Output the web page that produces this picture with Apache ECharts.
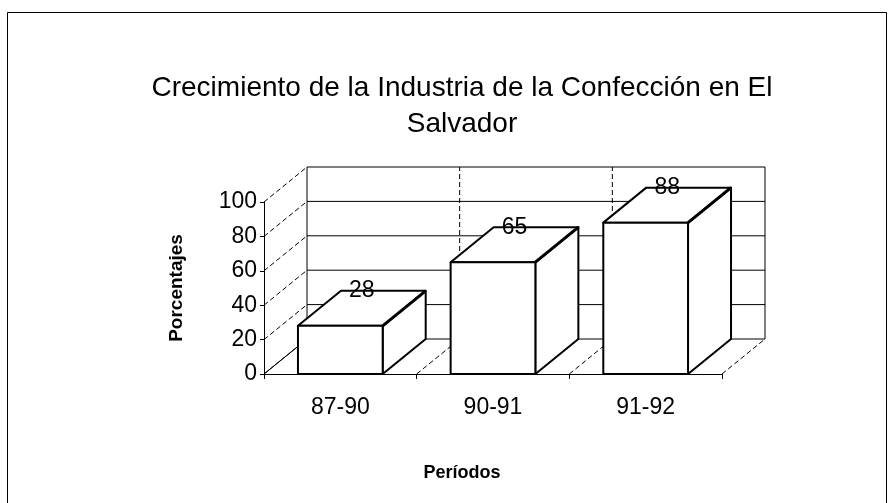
<!DOCTYPE html>
<html>
<head>
<meta charset="utf-8">
<script src="https://cdn.jsdelivr.net/npm/echarts@6/dist/echarts.min.js"></script>
<style>
  html, body { margin: 0; padding: 0; background: #fff; }
  #chart { width: 890px; height: 503px; }
</style>
</head>
<body>
<div id="chart"></div>
<script>
// datos
const titleText = 'Crecimiento de la Industria de la Confección en El\nSalvador'
const categories = ['87-90', '90-91', '91-92']
const values = [28, 65, 88]
const yTicks = [0, 20, 40, 60, 80, 100]

const FONT = '"Liberation Sans", Arial, sans-serif'
// desplazamiento de profundidad (efecto 3D)
const DX = 43
const DY = -35

let chart = echarts.init(document.getElementById('chart'), null, { renderer: 'canvas' })

// paredes: lineas de la pared lateral y de fondo
function renderWall (params, api) {
  let cs = params.coordSys
  let v = api.value(0)
  let y = api.coord([0, v])[1]
  let x0 = cs.x
  let x1 = cs.x + cs.width
  return {
    type: 'group',
    children: [
      {
        type: 'line',
        shape: { x1: x0, y1: y, x2: x0 + DX, y2: y + DY },
        style: { stroke: '#000', lineWidth: 1, lineDash: v === 0 ? null : [5, 3] }
      },
      {
        type: 'line',
        shape: { x1: x0 + DX, y1: y + DY, x2: x1 + DX, y2: y + DY },
        style: { stroke: '#000', lineWidth: 1 }
      }
    ]
  }
}

// divisiones entre categorias en el piso y en el fondo
function renderFrame (params, api) {
  let i = api.value(0)
  let band = api.size([1, 0])[0]
  let y0 = api.coord([i, 0])[1]
  let yTop = api.coord([i, yTicks[yTicks.length - 1]])[1]
  let xl = api.coord([i, 0])[0] - band / 2
  let children = []
  let edges = [xl]
  if (i === categories.length - 1) edges.push(xl + band)
  edges.forEach(function (x, k) {
    let outer = (i === 0 && k === 0) || k === 1
    children.push({
      type: 'line',
      shape: { x1: x, y1: y0, x2: x + DX, y2: y0 + DY },
      style: { stroke: '#000', lineWidth: 1, lineDash: (i === 0 && k === 0) ? null : [5, 3] }
    })
    children.push({
      type: 'line',
      shape: { x1: x + DX, y1: y0 + DY, x2: x + DX, y2: yTop + DY },
      style: { stroke: '#000', lineWidth: 1, lineDash: outer ? null : [5, 3] }
    })
  })
  return { type: 'group', children: children }
}

// barras 3D
function renderBar (params, api) {
  let idx = api.value(0)
  let val = api.value(1)
  let top = api.coord([idx, val])
  let base = api.coord([idx, 0])
  let band = api.size([1, 0])[0]
  let w = band * 0.555
  let xl = top[0] - w / 2
  let xr = top[0] + w / 2
  let yt = top[1]
  let yb = base[1]
  let st = { fill: '#fff', stroke: '#000', lineWidth: 2, lineJoin: 'round' }
  return {
    type: 'group',
    children: [
      { type: 'polygon', shape: { points: [[xr, yt], [xr + DX, yt + DY], [xr + DX, yb + DY], [xr, yb]] }, style: st },
      { type: 'polygon', shape: { points: [[xl, yt], [xr, yt], [xr + DX, yt + DY], [xl + DX, yt + DY]] }, style: st },
      { type: 'rect', shape: { x: xl, y: yt, width: w, height: yb - yt }, style: st },
      // arista diagonal mas gruesa, como en el original
      { type: 'line', shape: { x1: xr, y1: yt, x2: xr + DX, y2: yt + DY }, style: { stroke: '#000', lineWidth: 3 } },
      {
        type: 'text',
        x: top[0] + DX / 2,
        y: yt + DY,
        style: {
          text: String(val), fill: '#000', font: '23px ' + FONT,
          align: 'center', verticalAlign: 'middle'
        }
      }
    ]
  }
}

let option = {
  backgroundColor: '#fff',
  animation: false,
  title: {
    text: titleText,
    left: 462,
    top: 70,
    padding: 0,
    textAlign: 'center',
    textStyle: { fontFamily: FONT, fontSize: 28, fontWeight: 'normal', color: '#000', lineHeight: 36 }
  },
  grid: { left: 264, right: 168, top: 202, bottom: 129 },
  xAxis: {
    type: 'category',
    data: categories,
    name: 'Períodos',
    nameLocation: 'middle',
    nameGap: 90,
    nameTextStyle: { fontFamily: FONT, fontSize: 18, fontWeight: 'bold', color: '#000', padding: [0, 62, 0, 0] },
    axisLine: { lineStyle: { color: '#000', width: 1 } },
    axisTick: { show: true, length: 5, lineStyle: { color: '#000' } },
    axisLabel: { fontFamily: FONT, fontSize: 23, color: '#000', margin: 22 },
    splitLine: { show: false }
  },
  yAxis: {
    type: 'value',
    min: 0,
    max: 100,
    interval: 20,
    name: 'Porcentajes',
    nameLocation: 'middle',
    nameGap: 78,
    nameTextStyle: { fontFamily: FONT, fontSize: 19, fontWeight: 'bold', color: '#000' },
    axisLine: { show: true, lineStyle: { color: '#000', width: 1 } },
    axisTick: { show: true, length: 4, lineStyle: { color: '#000' } },
    axisLabel: { fontFamily: FONT, fontSize: 23, color: '#000', margin: 7 },
    splitLine: { show: false }
  },
  graphic: [
    {
      type: 'rect',
      shape: { x: 7.5, y: 12.5, width: 879, height: 520 },
      style: { fill: 'none', stroke: '#000', lineWidth: 1 },
      silent: true
    }
  ],
  series: [
    {
      type: 'custom',
      name: 'pared',
      renderItem: renderWall,
      data: yTicks.map(function (v) { return [v] }),
      encode: { y: 0 },
      silent: true,
      z: 1
    },
    {
      type: 'custom',
      name: 'marco',
      renderItem: renderFrame,
      data: categories.map(function (c, i) { return [i] }),
      encode: { x: 0 },
      silent: true,
      z: 1
    },
    {
      type: 'custom',
      name: 'Crecimiento',
      renderItem: renderBar,
      data: values.map(function (v, i) { return [i, v] }),
      encode: { x: 0, y: 1 },
      z: 3
    }
  ]
}

chart.setOption(option)
window.addEventListener('resize', function () { chart.resize() })
</script>
</body>
</html>
